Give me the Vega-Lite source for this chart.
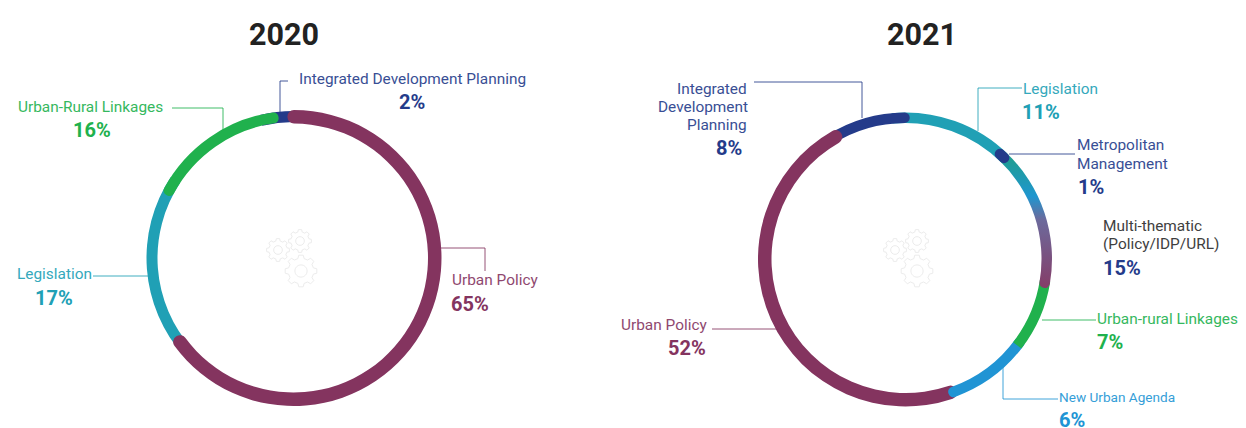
{
"$schema":"https://vega.github.io/schema/vega-lite/v6.json",
"width":1246,"height":428,"padding":0,"autosize":{"type":"none"},
"background":"white","view":{"stroke":null},
"datasets":{
"shares":[
{"year":2020,"seq":1,"series":"Urban Policy","share":65},
{"year":2020,"seq":2,"series":"Legislation","share":17},
{"year":2020,"seq":3,"series":"Urban-Rural Linkages","share":16},
{"year":2020,"seq":4,"series":"Integrated Development Planning","share":2},
{"year":2021,"seq":1,"series":"Legislation","share":11},
{"year":2021,"seq":2,"series":"Metropolitan Management","share":1},
{"year":2021,"seq":3,"series":"Multi-thematic","share":15},
{"year":2021,"seq":4,"series":"Urban-Rural Linkages","share":7},
{"year":2021,"seq":5,"series":"New Urban Agenda","share":6},
{"year":2021,"seq":6,"series":"Urban Policy","share":52},
{"year":2021,"seq":7,"series":"Integrated Development Planning","share":8}
],
"leaders":[
{"id":"a","series":"Integrated Development Planning","s":1,"x":288,"y":81},{"id":"a","series":"Integrated Development Planning","s":2,"x":280,"y":81},{"id":"a","series":"Integrated Development Planning","s":3,"x":280,"y":113},
{"id":"b","series":"Urban-Rural Linkages","s":1,"x":172,"y":108},{"id":"b","series":"Urban-Rural Linkages","s":2,"x":223,"y":108},{"id":"b","series":"Urban-Rural Linkages","s":3,"x":223,"y":130},
{"id":"c","series":"Legislation","s":1,"x":93,"y":276},{"id":"c","series":"Legislation","s":2,"x":148,"y":276},
{"id":"d","series":"Urban Policy","s":1,"x":441,"y":248},{"id":"d","series":"Urban Policy","s":2,"x":485,"y":248},{"id":"d","series":"Urban Policy","s":3,"x":485,"y":271},
{"id":"e","series":"Integrated Development Planning","s":1,"x":754,"y":82},{"id":"e","series":"Integrated Development Planning","s":2,"x":862,"y":82},{"id":"e","series":"Integrated Development Planning","s":3,"x":862,"y":118},
{"id":"f","series":"Legislation","s":1,"x":1022,"y":88},{"id":"f","series":"Legislation","s":2,"x":978,"y":88},{"id":"f","series":"Legislation","s":3,"x":978,"y":131},
{"id":"g","series":"Integrated Development Planning","s":1,"x":1009,"y":154},{"id":"g","series":"Integrated Development Planning","s":2,"x":1075,"y":154},
{"id":"h","series":"Urban-Rural Linkages","s":1,"x":1042,"y":320},{"id":"h","series":"Urban-Rural Linkages","s":2,"x":1096,"y":320},
{"id":"i","series":"New Urban Agenda","s":1,"x":1003,"y":367},{"id":"i","series":"New Urban Agenda","s":2,"x":1003,"y":399},{"id":"i","series":"New Urban Agenda","s":3,"x":1058,"y":399},
{"id":"j","series":"Urban Policy","s":1,"x":712,"y":329},{"id":"j","series":"Urban Policy","s":2,"x":779,"y":329}
],
"labels":[
{"kind":"title","series":"Title","text":"2020","x":249,"y":36},
{"kind":"title","series":"Title","text":"2021","x":887,"y":36},
{"kind":"name","series":"Integrated Development Planning","text":"Integrated Development Planning","x":299,"y":79},
{"kind":"value","series":"Integrated Development Planning","text":"2%","x":399,"y":102.5},
{"kind":"name","series":"Urban-Rural Linkages","text":"Urban-Rural Linkages","x":18,"y":107},
{"kind":"value","series":"Urban-Rural Linkages","text":"16%","x":73,"y":130.5},
{"kind":"name","series":"Legislation","text":"Legislation","x":17,"y":274},
{"kind":"value","series":"Legislation","text":"17%","x":35,"y":298.5},
{"kind":"name","series":"Urban Policy","text":"Urban Policy","x":452,"y":280},
{"kind":"value","series":"Urban Policy","text":"65%","x":451,"y":304.5},
{"kind":"name","series":"Integrated Development Planning","text":"Integrated","x":677,"y":89},
{"kind":"name","series":"Integrated Development Planning","text":"Development","x":658,"y":107},
{"kind":"name","series":"Integrated Development Planning","text":"Planning","x":687,"y":125},
{"kind":"value","series":"Integrated Development Planning","text":"8%","x":716,"y":148.5},
{"kind":"name","series":"Legislation","text":"Legislation","x":1023,"y":89},
{"kind":"value","series":"Legislation","text":"11%","x":1022,"y":112.5},
{"kind":"name","series":"Metropolitan Management","text":"Metropolitan","x":1077,"y":145},
{"kind":"name","series":"Metropolitan Management","text":"Management","x":1077,"y":164},
{"kind":"value","series":"Metropolitan Management","text":"1%","x":1078,"y":187.5},
{"kind":"name","series":"Multi-thematic label","text":"Multi-thematic","x":1103,"y":226},
{"kind":"name","series":"Multi-thematic label","text":"(Policy/IDP/URL)","x":1103,"y":244},
{"kind":"value","series":"Multi-thematic","text":"15%","x":1103,"y":268.5},
{"kind":"name","series":"Urban-Rural Linkages","text":"Urban-rural Linkages","x":1097,"y":319},
{"kind":"value","series":"Urban-Rural Linkages","text":"7%","x":1097,"y":342.5},
{"kind":"small","series":"New Urban Agenda","text":"New Urban Agenda","x":1059,"y":398},
{"kind":"value","series":"New Urban Agenda","text":"6%","x":1059,"y":421},
{"kind":"name","series":"Urban Policy","text":"Urban Policy","x":621,"y":325},
{"kind":"value","series":"Urban Policy","text":"52%","x":668,"y":348.5}
],
"gears":[
{"gear":"small","x":278,"y":250},{"gear":"small","x":300,"y":241},{"gear":"large","x":301,"y":271},
{"gear":"small","x":895,"y":250},{"gear":"small","x":917,"y":241},{"gear":"large","x":917,"y":271}
]
},
"layer":[
{"data":{"name":"gears"},
"mark":{"type":"point","filled":false,"stroke":"#ececec","strokeWidth":1,"opacity":1,
"shape":"M.776,-.194L.99,-.139L.99,.139L.776,.194L.686,.412L.799,.602L.602,.799L.412,.686L.194,.776L.139,.99L-.139,.99L-.194,.776L-.412,.686L-.602,.799L-.799,.602L-.686,.412L-.776,.194L-.99,.139L-.99,-.139L-.776,-.194L-.686,-.412L-.799,-.602L-.602,-.799L-.412,-.686L-.194,-.776L-.139,-.99L.139,-.99L.194,-.776L.412,-.686L.602,-.799L.799,-.602L.686,-.412ZM.38,0A.38,.38 0 1 0 -.38,0A.38,.38 0 1 0 .38,0Z"},
"encoding":{
"x":{"field":"x","type":"quantitative","scale":{"domain":[0,1246]},"axis":null},
"y":{"field":"y","type":"quantitative","scale":{"domain":[428,0]},"axis":null},
"size":{"field":"gear","type":"nominal","scale":{"domain":["small","large"],"range":[529,1024]},"legend":null}
}},
{"data":{"name":"shares"},
"transform":[{"stack":"share","groupby":["year"],"sort":[{"field":"seq"}],"as":["s0","s1"]},{"filter":"datum.year==2020 && (datum.series=='Legislation'||datum.series=='Integrated Development Planning')"},{"calculate":"datum.s0-2","as":"a0"},{"calculate":"datum.s1+2","as":"a1"}],
"mark":{"type":"arc","innerRadius":136,"outerRadius":147},
"encoding":{"x":{"datum":293.5,"type":"quantitative","scale":{"domain":[0,1246]},"axis":null},"y":{"datum":258,"type":"quantitative","scale":{"domain":[428,0]},"axis":null},
"theta":{"field":"a0","type":"quantitative","scale":{"domain":[0,100],"range":[0.02,6.303]}},"theta2":{"field":"a1"},
"color":{"field":"series","type":"nominal","legend":null,"scale":{"domain":["Urban Policy","Legislation","Urban-Rural Linkages","Integrated Development Planning","Metropolitan Management","Multi-thematic","Multi-thematic label","New Urban Agenda","Title"],"range":["#84345f","#20a0b5","#20b14d","#243b8a","#243b8a","#243b8a","#2b2b2b","#2094d4","#222222"]}}}},
{"data":{"name":"shares"},
"transform":[{"stack":"share","groupby":["year"],"sort":[{"field":"seq"}],"as":["s0","s1"]},{"filter":"datum.year==2020 && datum.series=='Urban-Rural Linkages'"}],
"mark":{"type":"arc","innerRadius":136,"outerRadius":147,"cornerRadius":5},
"encoding":{"x":{"datum":293.5,"type":"quantitative","scale":{"domain":[0,1246]},"axis":null},"y":{"datum":258,"type":"quantitative","scale":{"domain":[428,0]},"axis":null},
"theta":{"field":"s0","type":"quantitative","scale":{"domain":[0,100],"range":[0.02,6.303]}},"theta2":{"field":"s1"},
"color":{"field":"series","type":"nominal","legend":null,"scale":{"domain":["Urban Policy","Legislation","Urban-Rural Linkages","Integrated Development Planning","Metropolitan Management","Multi-thematic","Multi-thematic label","New Urban Agenda","Title"],"range":["#84345f","#20a0b5","#20b14d","#243b8a","#243b8a","#243b8a","#2b2b2b","#2094d4","#222222"]}}}},
{"data":{"name":"shares"},
"transform":[{"stack":"share","groupby":["year"],"sort":[{"field":"seq"}],"as":["s0","s1"]},{"filter":"datum.year==2020 && datum.series=='Urban Policy'"},{"calculate":"datum.s0-1","as":"a0"},{"calculate":"datum.s1+0.3","as":"a1"}],
"mark":{"type":"arc","innerRadius":134.5,"outerRadius":148,"cornerRadius":6.5},
"encoding":{"x":{"datum":293.5,"type":"quantitative","scale":{"domain":[0,1246]},"axis":null},"y":{"datum":258,"type":"quantitative","scale":{"domain":[428,0]},"axis":null},
"theta":{"field":"a0","type":"quantitative","scale":{"domain":[0,100],"range":[0.02,6.303]}},"theta2":{"field":"a1"},
"color":{"field":"series","type":"nominal","legend":null,"scale":{"domain":["Urban Policy","Legislation","Urban-Rural Linkages","Integrated Development Planning","Metropolitan Management","Multi-thematic","Multi-thematic label","New Urban Agenda","Title"],"range":["#84345f","#20a0b5","#20b14d","#243b8a","#243b8a","#243b8a","#2b2b2b","#2094d4","#222222"]}}}},
{"data":{"name":"shares"},
"transform":[{"stack":"share","groupby":["year"],"sort":[{"field":"seq"}],"as":["s0","s1"]},{"filter":"datum.year==2021 && datum.series=='Legislation'"},{"calculate":"datum.s0-2","as":"a0"},{"calculate":"datum.s1+1","as":"a1"}],
"mark":{"type":"arc","innerRadius":136,"outerRadius":146.5},
"encoding":{"x":{"datum":905.5,"type":"quantitative","scale":{"domain":[0,1246]},"axis":null},"y":{"datum":259,"type":"quantitative","scale":{"domain":[428,0]},"axis":null},
"theta":{"field":"a0","type":"quantitative","scale":{"domain":[0,100],"range":[0.03,6.313]}},"theta2":{"field":"a1"},
"color":{"field":"series","type":"nominal","legend":null,"scale":{"domain":["Urban Policy","Legislation","Urban-Rural Linkages","Integrated Development Planning","Metropolitan Management","Multi-thematic","Multi-thematic label","New Urban Agenda","Title"],"range":["#84345f","#20a0b5","#20b14d","#243b8a","#243b8a","#243b8a","#2b2b2b","#2094d4","#222222"]}}}},
{"data":{"name":"shares"},
"transform":[{"stack":"share","groupby":["year"],"sort":[{"field":"seq"}],"as":["s0","s1"]},{"filter":"datum.year==2021 && datum.series=='Integrated Development Planning'"},{"calculate":"datum.s0-2","as":"a0"},{"calculate":"datum.s1","as":"a1"}],
"mark":{"type":"arc","innerRadius":136,"outerRadius":146.5,"cornerRadius":5},
"encoding":{"x":{"datum":905.5,"type":"quantitative","scale":{"domain":[0,1246]},"axis":null},"y":{"datum":259,"type":"quantitative","scale":{"domain":[428,0]},"axis":null},
"theta":{"field":"a0","type":"quantitative","scale":{"domain":[0,100],"range":[0.03,6.313]}},"theta2":{"field":"a1"},
"color":{"field":"series","type":"nominal","legend":null,"scale":{"domain":["Urban Policy","Legislation","Urban-Rural Linkages","Integrated Development Planning","Metropolitan Management","Multi-thematic","Multi-thematic label","New Urban Agenda","Title"],"range":["#84345f","#20a0b5","#20b14d","#243b8a","#243b8a","#243b8a","#2b2b2b","#2094d4","#222222"]}}}},
{"data":{"name":"shares"},
"transform":[{"stack":"share","groupby":["year"],"sort":[{"field":"seq"}],"as":["s0","s1"]},{"filter":"datum.year==2021 && datum.series=='Urban Policy'"},{"calculate":"datum.s0+3.6","as":"a0"},{"calculate":"datum.s1","as":"a1"}],
"mark":{"type":"arc","innerRadius":134,"outerRadius":147.5,"cornerRadius":6.5},
"encoding":{"x":{"datum":905.5,"type":"quantitative","scale":{"domain":[0,1246]},"axis":null},"y":{"datum":259,"type":"quantitative","scale":{"domain":[428,0]},"axis":null},
"theta":{"field":"a0","type":"quantitative","scale":{"domain":[0,100],"range":[0.03,6.313]}},"theta2":{"field":"a1"},
"color":{"field":"series","type":"nominal","legend":null,"scale":{"domain":["Urban Policy","Legislation","Urban-Rural Linkages","Integrated Development Planning","Metropolitan Management","Multi-thematic","Multi-thematic label","New Urban Agenda","Title"],"range":["#84345f","#20a0b5","#20b14d","#243b8a","#243b8a","#243b8a","#2b2b2b","#2094d4","#222222"]}}}},
{"data":{"name":"shares"},
"transform":[{"stack":"share","groupby":["year"],"sort":[{"field":"seq"}],"as":["s0","s1"]},{"filter":"datum.year==2021 && datum.series=='New Urban Agenda'"},{"calculate":"datum.s0","as":"a0"},{"calculate":"datum.s1+4.6","as":"a1"}],
"mark":{"type":"arc","innerRadius":136,"outerRadius":146.5,"cornerRadius":5},
"encoding":{"x":{"datum":905.5,"type":"quantitative","scale":{"domain":[0,1246]},"axis":null},"y":{"datum":259,"type":"quantitative","scale":{"domain":[428,0]},"axis":null},
"theta":{"field":"a0","type":"quantitative","scale":{"domain":[0,100],"range":[0.03,6.313]}},"theta2":{"field":"a1"},
"color":{"field":"series","type":"nominal","legend":null,"scale":{"domain":["Urban Policy","Legislation","Urban-Rural Linkages","Integrated Development Planning","Metropolitan Management","Multi-thematic","Multi-thematic label","New Urban Agenda","Title"],"range":["#84345f","#20a0b5","#20b14d","#243b8a","#243b8a","#243b8a","#2b2b2b","#2094d4","#222222"]}}}},
{"data":{"name":"shares"},
"transform":[{"stack":"share","groupby":["year"],"sort":[{"field":"seq"}],"as":["s0","s1"]},{"filter":"datum.year==2021 && datum.series=='Urban-Rural Linkages'"},{"calculate":"datum.s1+1","as":"a1"}],
"mark":{"type":"arc","innerRadius":136,"outerRadius":146.5},
"encoding":{"x":{"datum":905.5,"type":"quantitative","scale":{"domain":[0,1246]},"axis":null},"y":{"datum":259,"type":"quantitative","scale":{"domain":[428,0]},"axis":null},
"theta":{"field":"s0","type":"quantitative","scale":{"domain":[0,100],"range":[0.03,6.313]}},"theta2":{"field":"a1"},
"color":{"field":"series","type":"nominal","legend":null,"scale":{"domain":["Urban Policy","Legislation","Urban-Rural Linkages","Integrated Development Planning","Metropolitan Management","Multi-thematic","Multi-thematic label","New Urban Agenda","Title"],"range":["#84345f","#20a0b5","#20b14d","#243b8a","#243b8a","#243b8a","#2b2b2b","#2094d4","#222222"]}}}},
{"data":{"name":"shares"},
"transform":[{"stack":"share","groupby":["year"],"sort":[{"field":"seq"}],"as":["s0","s1"]},{"filter":"datum.year==2021 && datum.series=='Multi-thematic'"},{"calculate":"datum.s0-1","as":"a0"},{"calculate":"datum.s1+0.8","as":"a1"}],
"mark":{"type":"arc","innerRadius":136,"outerRadius":146.5,"cornerRadius":5,
"fill":{"gradient":"linear","x1":0,"y1":0,"x2":0,"y2":1,"stops":[{"offset":0,"color":"#1f9f86"},{"offset":0.33,"color":"#1f96cf"},{"offset":0.5,"color":"#6c6a9c"},{"offset":1,"color":"#853d68"}]}},
"encoding":{"x":{"datum":905.5,"type":"quantitative","scale":{"domain":[0,1246]},"axis":null},"y":{"datum":259,"type":"quantitative","scale":{"domain":[428,0]},"axis":null},
"theta":{"field":"a0","type":"quantitative","scale":{"domain":[0,100],"range":[0.03,6.313]}},"theta2":{"field":"a1"}}},
{"data":{"name":"shares"},
"transform":[{"stack":"share","groupby":["year"],"sort":[{"field":"seq"}],"as":["s0","s1"]},{"filter":"datum.year==2021 && datum.series=='Metropolitan Management'"},{"calculate":"datum.s0-0.4","as":"a0"},{"calculate":"datum.s1+0.4","as":"a1"}],
"mark":{"type":"arc","innerRadius":136,"outerRadius":146.5,"cornerRadius":5},
"encoding":{"x":{"datum":905.5,"type":"quantitative","scale":{"domain":[0,1246]},"axis":null},"y":{"datum":259,"type":"quantitative","scale":{"domain":[428,0]},"axis":null},
"theta":{"field":"a0","type":"quantitative","scale":{"domain":[0,100],"range":[0.03,6.313]}},"theta2":{"field":"a1"},
"color":{"field":"series","type":"nominal","legend":null,"scale":{"domain":["Urban Policy","Legislation","Urban-Rural Linkages","Integrated Development Planning","Metropolitan Management","Multi-thematic","Multi-thematic label","New Urban Agenda","Title"],"range":["#84345f","#20a0b5","#20b14d","#243b8a","#243b8a","#243b8a","#2b2b2b","#2094d4","#222222"]}}}},
{"data":{"name":"leaders"},
"mark":{"type":"line","strokeWidth":1,"interpolate":"linear","opacity":0.85},
"encoding":{"x":{"field":"x","type":"quantitative","scale":{"domain":[0,1246]},"axis":null},"y":{"field":"y","type":"quantitative","scale":{"domain":[428,0]},"axis":null},
"detail":{"field":"id"},"order":{"field":"s"},
"color":{"field":"series","type":"nominal","legend":null,"scale":{"domain":["Urban Policy","Legislation","Urban-Rural Linkages","Integrated Development Planning","Metropolitan Management","Multi-thematic","Multi-thematic label","New Urban Agenda","Title"],"range":["#84345f","#20a0b5","#20b14d","#243b8a","#243b8a","#243b8a","#2b2b2b","#2094d4","#222222"]}}}},
{"data":{"name":"labels"},"transform":[{"filter":"datum.kind=='title'"}],
"mark":{"type":"text","font":"Roboto","fontWeight":"bold","fontSize":30.5,"align":"left","baseline":"middle"},
"encoding":{"x":{"field":"x","type":"quantitative","scale":{"domain":[0,1246]},"axis":null},"y":{"field":"y","type":"quantitative","scale":{"domain":[428,0]},"axis":null},"text":{"field":"text"},
"color":{"field":"series","type":"nominal","legend":null,"scale":{"domain":["Urban Policy","Legislation","Urban-Rural Linkages","Integrated Development Planning","Metropolitan Management","Multi-thematic","Multi-thematic label","New Urban Agenda","Title"],"range":["#84345f","#20a0b5","#20b14d","#243b8a","#243b8a","#243b8a","#2b2b2b","#2094d4","#222222"]}}}},
{"data":{"name":"labels"},"transform":[{"filter":"datum.kind=='name'"}],
"mark":{"type":"text","font":"Roboto","fontSize":15.4,"opacity":0.9,"align":"left","baseline":"middle"},
"encoding":{"x":{"field":"x","type":"quantitative","scale":{"domain":[0,1246]},"axis":null},"y":{"field":"y","type":"quantitative","scale":{"domain":[428,0]},"axis":null},"text":{"field":"text"},
"color":{"field":"series","type":"nominal","legend":null,"scale":{"domain":["Urban Policy","Legislation","Urban-Rural Linkages","Integrated Development Planning","Metropolitan Management","Multi-thematic","Multi-thematic label","New Urban Agenda","Title"],"range":["#84345f","#20a0b5","#20b14d","#243b8a","#243b8a","#243b8a","#2b2b2b","#2094d4","#222222"]}}}},
{"data":{"name":"labels"},"transform":[{"filter":"datum.kind=='small'"}],
"mark":{"type":"text","font":"Roboto","fontSize":13.6,"opacity":0.9,"align":"left","baseline":"middle"},
"encoding":{"x":{"field":"x","type":"quantitative","scale":{"domain":[0,1246]},"axis":null},"y":{"field":"y","type":"quantitative","scale":{"domain":[428,0]},"axis":null},"text":{"field":"text"},
"color":{"field":"series","type":"nominal","legend":null,"scale":{"domain":["Urban Policy","Legislation","Urban-Rural Linkages","Integrated Development Planning","Metropolitan Management","Multi-thematic","Multi-thematic label","New Urban Agenda","Title"],"range":["#84345f","#20a0b5","#20b14d","#243b8a","#243b8a","#243b8a","#2b2b2b","#2094d4","#222222"]}}}},
{"data":{"name":"labels"},"transform":[{"filter":"datum.kind=='value'"}],
"mark":{"type":"text","font":"Roboto","fontWeight":"bold","fontSize":20,"align":"left","baseline":"middle"},
"encoding":{"x":{"field":"x","type":"quantitative","scale":{"domain":[0,1246]},"axis":null},"y":{"field":"y","type":"quantitative","scale":{"domain":[428,0]},"axis":null},"text":{"field":"text"},
"color":{"field":"series","type":"nominal","legend":null,"scale":{"domain":["Urban Policy","Legislation","Urban-Rural Linkages","Integrated Development Planning","Metropolitan Management","Multi-thematic","Multi-thematic label","New Urban Agenda","Title"],"range":["#84345f","#20a0b5","#20b14d","#243b8a","#243b8a","#243b8a","#2b2b2b","#2094d4","#222222"]}}}}
],
"resolve":{"scale":{"color":"shared","theta":"independent"}}
}
